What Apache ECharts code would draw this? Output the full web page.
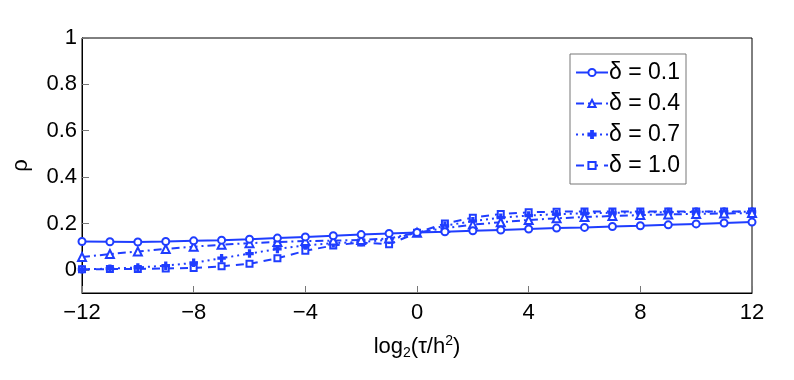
<!DOCTYPE html>
<html>
<head>
<meta charset="utf-8">
<script src="https://cdn.jsdelivr.net/npm/echarts@6/dist/echarts.min.js"></script>
<style>
  html, body { margin: 0; padding: 0; background: #fff; }
  #chart { width: 794px; height: 380px; }
</style>
</head>
<body>
<div id="chart"></div>
<script>
// x = log2(tau/h^2)
const xValues = [-12, -11, -10, -9, -8, -7, -6, -5, -4, -3, -2, -1, 0, 1, 2, 3, 4, 5, 6, 7, 8, 9, 10, 11, 12];
const seriesNames = ['δ = 0.1', 'δ = 0.4', 'δ = 0.7', 'δ = 1.0'];
const rhoD01 = [0.122, 0.121, 0.120, 0.122, 0.125, 0.128, 0.132, 0.137, 0.142, 0.147, 0.152, 0.157, 0.161, 0.164, 0.168, 0.172, 0.176, 0.180, 0.183, 0.187, 0.190, 0.194, 0.198, 0.202, 0.206];
const rhoD04 = [0.055, 0.068, 0.079, 0.090, 0.100, 0.108, 0.115, 0.120, 0.124, 0.126, 0.129, 0.135, 0.160, 0.180, 0.195, 0.205, 0.215, 0.222, 0.228, 0.232, 0.236, 0.239, 0.241, 0.243, 0.245];
const rhoD07 = [0.002, 0.005, 0.010, 0.018, 0.030, 0.050, 0.070, 0.090, 0.105, 0.115, 0.120, 0.130, 0.160, 0.190, 0.210, 0.225, 0.234, 0.240, 0.244, 0.246, 0.248, 0.249, 0.250, 0.250, 0.250];
const rhoD10 = [0.002, 0.003, 0.004, 0.006, 0.008, 0.015, 0.026, 0.050, 0.082, 0.105, 0.118, 0.110, 0.160, 0.200, 0.225, 0.241, 0.248, 0.251, 0.252, 0.252, 0.252, 0.252, 0.252, 0.252, 0.252];
const yTicks = [0, 0.2, 0.4, 0.6, 0.8, 1];
const xTicks = [-12, -8, -4, 0, 4, 8, 12];

const blue = '#1f3dff';
const font = 'Liberation Sans, Arial, sans-serif';
const plusPath = 'path://M-1,-4H1V-1H4V1H1V4H-1V1H-4V-1H-1Z';

const styles = [
  { symbol: 'emptyCircle', size: 7, type: 'solid' },
  { symbol: 'emptyTriangle', size: 8, type: [8, 4, 2, 4] },
  { symbol: plusPath, size: 7, type: [2, 4] },
  { symbol: 'emptyRect', size: 6, type: [8, 6] },
];
const allData = [rhoD01, rhoD04, rhoD07, rhoD10];

const chart = echarts.init(document.getElementById('chart'));

const series = allData.map((vals, i) => ({
  name: seriesNames[i],
  type: 'line',
  data: xValues.map((x, k) => [x, vals[k]]),
  symbol: styles[i].symbol,
  symbolSize: styles[i].size,
  showAllSymbol: true,
  lineStyle: { color: blue, width: 2, type: styles[i].type },
  itemStyle: { color: blue, borderColor: blue, borderWidth: 1.5 },
  z: 10 - i,
  animation: false,
}));

const option = {
  animation: false,
  grid: {
    left: 82, right: 42, top: 38, bottom: 87,
    show: true, borderColor: '#000', borderWidth: 1, backgroundColor: '#fff',
  },
  legend: {
    orient: 'vertical',
    right: 108,
    top: 54,
    data: seriesNames,
    itemWidth: 32,
    itemHeight: 9,
    itemGap: 8,
    padding: [7, 6, 7, 5],
    borderColor: '#777',
    borderWidth: 1,
    backgroundColor: '#fff',
    textStyle: { fontFamily: font, fontSize: 23, color: '#000', padding: [0, 0, 0, -4] },
  },
  xAxis: {
    type: 'value',
    min: -12, max: 12, interval: 4,
    name: '{a|log}{s|2}{a|(τ/h}{p|2}{a|)}',
    nameLocation: 'middle',
    nameGap: 40,
    nameTextStyle: {
      rich: {
        a: { fontFamily: font, fontSize: 22, color: '#000' },
        s: { fontFamily: font, fontSize: 14, color: '#000', padding: [13, 0, 0, 0] },
        p: { fontFamily: font, fontSize: 14, color: '#000', padding: [0, 0, 11, 0] },
      },
    },
    axisLine: { show: true, onZero: false, lineStyle: { color: '#000' } },
    axisTick: { show: true, inside: true, length: 7, lineStyle: { color: '#777' }, customValues: xTicks },
    axisLabel: {
      customValues: xTicks,
      fontFamily: font, fontSize: 22, color: '#000', margin: 9,
      formatter: (v) => (v < 0 ? '\u2212' + (-v) : String(v)),
    },
    splitLine: { show: false },
  },
  yAxis: {
    type: 'value',
    min: -0.1, max: 1,
    name: 'ρ',
    nameLocation: 'middle',
    nameGap: 50,
    nameRotate: 90,
    nameTextStyle: { fontFamily: font, fontSize: 22, color: '#000' },
    axisLine: { show: true, onZero: false, lineStyle: { color: '#000' } },
    axisTick: { show: true, inside: true, length: 7, lineStyle: { color: '#777' }, customValues: yTicks },
    axisLabel: {
      customValues: yTicks,
      fontFamily: font, fontSize: 22, color: '#000', margin: 5,
      formatter: (v) => String(Math.round(v * 10) / 10),
    },
    splitLine: { show: false },
  },
  series: series,
};

chart.setOption(option);
</script>
</body>
</html>
